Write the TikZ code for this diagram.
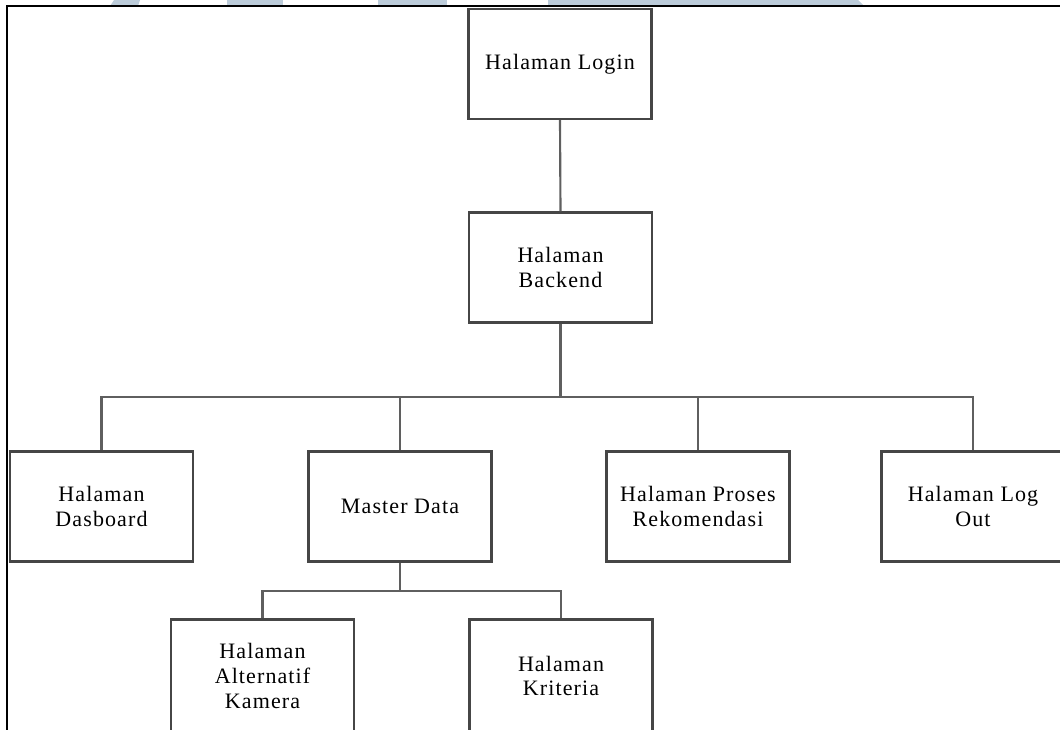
\documentclass[tikz,border=0pt]{standalone}
\usepackage{fontspec}
\setmainfont{Liberation Serif}[LetterSpace=5]
\usetikzlibrary{positioning}
\definecolor{boxline}{RGB}{70,70,70}
\definecolor{conline}{RGB}{95,95,95}
\definecolor{wmark}{RGB}{188,204,218}
\tikzset{
  pagebox/.style={draw=boxline, line width=1.6pt, fill=white, rectangle,
    minimum width=183*0.75pt, minimum height=110*0.75pt, inner sep=0pt,
    align=center, font=\fontsize{16.5pt}{18.6pt}\selectfont, text=black},
  tallbox/.style={pagebox, minimum height=113*0.75pt},
  conn/.style={draw=conline, line width=1.6pt},
  frameline/.style={draw=black, line width=1.6pt}
}
\begin{document}
\begin{tikzpicture}[x=0.75pt, y=-0.75pt]
\useasboundingbox (0,0) rectangle (1060,729);
\clip (0,0) rectangle (1060,729);
% watermark fragments
\fill[wmark] (114,0) -- (140,0) -- (138,6) -- (110,6) -- cycle;
\fill[wmark] (227,0) rectangle (283,6);
\fill[wmark] (378,0) rectangle (447,6);
\fill[wmark] (548,0) -- (858,0) -- (864,6) -- (548,6) -- cycle;
% page frame
\draw[frameline] (1062,6) -- (7,6) -- (7,731);
% nodes
\node[pagebox] (login) at (560,64) {Halaman Login};
\node[pagebox] (back) at (560.5,267.5) {Halaman\\Backend};
\node[pagebox] (dash) at (101.5,506.5) {Halaman\\Dasboard};
\node[pagebox] (master) at (400,506.5) {Master Data};
\node[pagebox] (proses) at (698,506.5) {Halaman Proses\\Rekomendasi};
\node[pagebox] (logout) at (973,506.5) {Halaman Log\\Out};
\node[tallbox] (alt) at (262.5,676) {Halaman\\Alternatif\\Kamera};
\node[tallbox] (krit) at (561,676) {Halaman\\Kriteria};
% connectors
\coordinate (bus) at (560.5,397);
\coordinate (bus2) at (400,591);
\draw[conn] (login.south) -- (back.north);
\draw[conn] (back.south) -- (bus);
\draw[conn] (bus) -| (dash.north);
\draw[conn] (bus) -| (master.north);
\draw[conn] (bus) -| (proses.north);
\draw[conn] (bus) -| (logout.north);
\draw[conn] (master.south) -- (bus2);
\draw[conn] (bus2) -| (alt.north);
\draw[conn] (bus2) -| (krit.north);
\end{tikzpicture}
\end{document}
